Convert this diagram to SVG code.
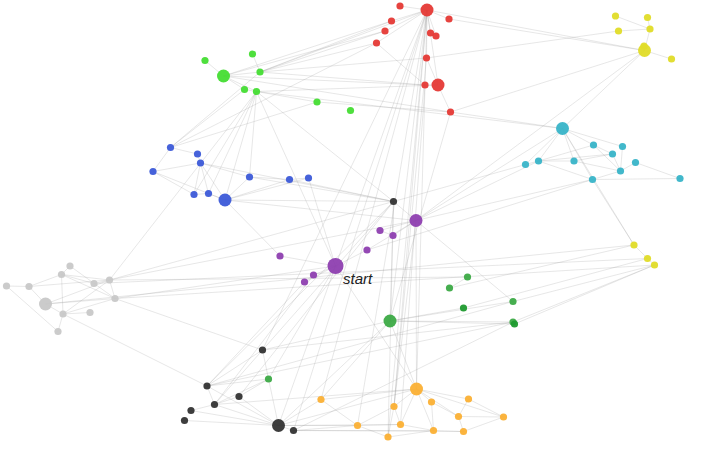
<svg xmlns="http://www.w3.org/2000/svg" width="705" height="452" viewBox="0 0 705 452">
<style>
.e line{stroke:#9a9a9a;stroke-opacity:.24;stroke-width:1;fill:none}
circle{fill-opacity:.95}
.red{fill:#e53935}.grn{fill:#44dd33}.blu{fill:#3c5ad8}.blk{fill:#333}.pur{fill:#8e3fb0}
.yel{fill:#e0dc28}.cya{fill:#38b4c8}.gry{fill:#c8c8c8}.fgr{fill:#3caa46}.dgr{fill:#1f9a2f}.org{fill:#fbb034}
text{font-family:"Liberation Sans",Arial,sans-serif;font-style:italic;font-size:15px;fill:#222}
</style>
<rect width="705" height="452" fill="#fff"/>
<g id="connectors" class="e">
<line x1="427" y1="10" x2="400" y2="6"/><line x1="427" y1="10" x2="391.5" y2="21"/><line x1="427" y1="10" x2="385" y2="31"/><line x1="427" y1="10" x2="376.5" y2="43"/><line x1="427" y1="10" x2="449" y2="19"/><line x1="427" y1="10" x2="430.5" y2="33"/><line x1="427" y1="10" x2="436" y2="36"/><line x1="427" y1="10" x2="426.5" y2="58"/><line x1="427" y1="10" x2="425" y2="85"/><line x1="427" y1="10" x2="438" y2="85"/><line x1="426.5" y1="58" x2="438" y2="85"/><line x1="425" y1="85" x2="438" y2="85"/><line x1="438" y1="85" x2="450.5" y2="112"/><line x1="376.5" y1="43" x2="425" y2="85"/><line x1="430.5" y1="33" x2="436" y2="36"/>
<line x1="427" y1="10" x2="644.5" y2="50.5"/><line x1="449" y1="19" x2="644.5" y2="50.5"/><line x1="426.5" y1="58" x2="618.5" y2="31"/><line x1="450.5" y1="112" x2="644.5" y2="50.5"/><line x1="450.5" y1="112" x2="562.5" y2="128.5"/><line x1="450.5" y1="112" x2="390" y2="321"/><line x1="427" y1="10" x2="390" y2="321"/><line x1="427" y1="10" x2="394" y2="406.5"/><line x1="427" y1="10" x2="388" y2="437"/><line x1="427" y1="10" x2="293.5" y2="430.5"/><line x1="427" y1="10" x2="278.5" y2="425.5"/><line x1="427" y1="10" x2="262.5" y2="350"/><line x1="427" y1="10" x2="357.5" y2="425.5"/><line x1="427" y1="10" x2="321" y2="399.5"/><line x1="425" y1="85" x2="400.5" y2="424.5"/><line x1="425" y1="85" x2="416.5" y2="389"/><line x1="426.5" y1="58" x2="394" y2="406.5"/><line x1="385" y1="31" x2="260" y2="72"/><line x1="376.5" y1="43" x2="260" y2="72"/><line x1="427" y1="10" x2="260" y2="72"/><line x1="391.5" y1="21" x2="223.5" y2="76"/><line x1="391.5" y1="21" x2="260" y2="72"/><line x1="385" y1="31" x2="223.5" y2="76"/><line x1="425" y1="85" x2="260" y2="72"/><line x1="425" y1="85" x2="223.5" y2="76"/><line x1="376.5" y1="43" x2="170.5" y2="147.5"/><line x1="438" y1="85" x2="256.5" y2="91.5"/><line x1="260" y1="72" x2="426.5" y2="58"/><line x1="223.5" y1="76" x2="450.5" y2="112"/>
<line x1="205" y1="60.5" x2="223.5" y2="76"/><line x1="223.5" y1="76" x2="260" y2="72"/><line x1="223.5" y1="76" x2="244.5" y2="89.5"/><line x1="223.5" y1="76" x2="256.5" y2="91.5"/><line x1="252.5" y1="54" x2="260" y2="72"/><line x1="244.5" y1="89.5" x2="256.5" y2="91.5"/><line x1="256.5" y1="91.5" x2="317" y2="102"/><line x1="256.5" y1="91.5" x2="562.5" y2="128.5"/><line x1="317" y1="102" x2="450.5" y2="112"/><line x1="256.5" y1="91.5" x2="109.5" y2="280"/><line x1="256.5" y1="91.5" x2="208.5" y2="193.5"/><line x1="256.5" y1="91.5" x2="225" y2="200"/><line x1="256.5" y1="91.5" x2="249.5" y2="177"/><line x1="256.5" y1="91.5" x2="194" y2="194.5"/><line x1="256.5" y1="91.5" x2="393.5" y2="201.5"/><line x1="256.5" y1="91.5" x2="335.5" y2="266"/><line x1="244.5" y1="89.5" x2="170.5" y2="147.5"/><line x1="317" y1="102" x2="170.5" y2="147.5"/><line x1="170.5" y1="147.5" x2="260" y2="72"/>
<line x1="170.5" y1="147.5" x2="197.5" y2="154"/><line x1="170.5" y1="147.5" x2="153" y2="171.5"/><line x1="197.5" y1="154" x2="200.5" y2="163"/><line x1="200.5" y1="163" x2="153" y2="171.5"/><line x1="200.5" y1="163" x2="194" y2="194.5"/><line x1="200.5" y1="163" x2="208.5" y2="193.5"/><line x1="200.5" y1="163" x2="225" y2="200"/><line x1="153" y1="171.5" x2="225" y2="200"/><line x1="153" y1="171.5" x2="194" y2="194.5"/><line x1="194" y1="194.5" x2="208.5" y2="193.5"/><line x1="208.5" y1="193.5" x2="225" y2="200"/><line x1="225" y1="200" x2="249.5" y2="177"/><line x1="200.5" y1="163" x2="249.5" y2="177"/><line x1="249.5" y1="177" x2="289.5" y2="179.5"/><line x1="289.5" y1="179.5" x2="308.5" y2="178"/><line x1="225" y1="200" x2="289.5" y2="179.5"/><line x1="225" y1="200" x2="308.5" y2="178"/><line x1="249.5" y1="177" x2="393.5" y2="201.5"/><line x1="225" y1="200" x2="393.5" y2="201.5"/><line x1="289.5" y1="179.5" x2="393.5" y2="201.5"/><line x1="225" y1="200" x2="416" y2="220.5"/><line x1="200.5" y1="163" x2="393.5" y2="201.5"/><line x1="225" y1="200" x2="280" y2="256"/><line x1="308.5" y1="178" x2="335.5" y2="266"/>
<line x1="393.5" y1="201.5" x2="416" y2="220.5"/><line x1="393.5" y1="201.5" x2="390" y2="321"/><line x1="393.5" y1="201.5" x2="388" y2="437"/><line x1="393.5" y1="201.5" x2="207" y2="386"/><line x1="393.5" y1="201.5" x2="239" y2="396.5"/><line x1="393.5" y1="201.5" x2="214.5" y2="404.5"/><line x1="393.5" y1="201.5" x2="525.5" y2="164.5"/><line x1="109.5" y1="280" x2="393.5" y2="201.5"/><line x1="262.5" y1="350" x2="207" y2="386"/><line x1="262.5" y1="350" x2="268.5" y2="379"/><line x1="262.5" y1="350" x2="390" y2="321"/><line x1="262.5" y1="350" x2="513" y2="322"/><line x1="207" y1="386" x2="214.5" y2="404.5"/><line x1="207" y1="386" x2="278.5" y2="425.5"/><line x1="207" y1="386" x2="268.5" y2="379"/><line x1="207" y1="386" x2="513" y2="301.5"/><line x1="207" y1="386" x2="513" y2="322"/><line x1="239" y1="396.5" x2="214.5" y2="404.5"/><line x1="239" y1="396.5" x2="278.5" y2="425.5"/><line x1="239" y1="396.5" x2="268.5" y2="379"/><line x1="214.5" y1="404.5" x2="191" y2="410.5"/><line x1="214.5" y1="404.5" x2="278.5" y2="425.5"/><line x1="214.5" y1="404.5" x2="416.5" y2="389"/><line x1="214.5" y1="404.5" x2="268.5" y2="379"/><line x1="184.5" y1="420.5" x2="278.5" y2="425.5"/><line x1="278.5" y1="425.5" x2="293.5" y2="430.5"/><line x1="278.5" y1="425.5" x2="268.5" y2="379"/><line x1="278.5" y1="425.5" x2="321" y2="399.5"/><line x1="278.5" y1="425.5" x2="416.5" y2="389"/><line x1="278.5" y1="425.5" x2="400.5" y2="424.5"/><line x1="278.5" y1="425.5" x2="357.5" y2="425.5"/><line x1="293.5" y1="430.5" x2="357.5" y2="425.5"/><line x1="293.5" y1="430.5" x2="433.5" y2="430.5"/><line x1="293.5" y1="430.5" x2="463.5" y2="431.5"/><line x1="293.5" y1="430.5" x2="513" y2="322"/><line x1="191" y1="410.5" x2="278.5" y2="425.5"/>
<line x1="416" y1="220.5" x2="380" y2="230.5"/><line x1="416" y1="220.5" x2="393" y2="235.5"/><line x1="380" y1="230.5" x2="393" y2="235.5"/><line x1="416" y1="220.5" x2="367" y2="250"/><line x1="367" y1="250" x2="335.5" y2="266"/><line x1="335.5" y1="266" x2="313.5" y2="275"/><line x1="335.5" y1="266" x2="304.5" y2="282"/><line x1="313.5" y1="275" x2="304.5" y2="282"/><line x1="280" y1="256" x2="335.5" y2="266"/><line x1="416" y1="220.5" x2="562.5" y2="128.5"/><line x1="416" y1="220.5" x2="538.5" y2="161"/><line x1="416" y1="220.5" x2="592.5" y2="179.5"/><line x1="416" y1="220.5" x2="644.5" y2="50.5"/><line x1="416" y1="220.5" x2="513" y2="301.5"/><line x1="416" y1="220.5" x2="416.5" y2="389"/><line x1="416" y1="220.5" x2="394" y2="406.5"/><line x1="592.5" y1="179.5" x2="367" y2="250"/><line x1="335.5" y1="266" x2="416.5" y2="389"/><line x1="304.5" y1="282" x2="207" y2="386"/><line x1="313.5" y1="275" x2="214.5" y2="404.5"/><line x1="335.5" y1="266" x2="268.5" y2="379"/><line x1="109.5" y1="280" x2="416" y2="220.5"/>
<line x1="70" y1="266" x2="61.5" y2="274.5"/><line x1="70" y1="266" x2="115" y2="298.5"/><line x1="61.5" y1="274.5" x2="29" y2="286.5"/><line x1="61.5" y1="274.5" x2="109.5" y2="280"/><line x1="61.5" y1="274.5" x2="115" y2="298.5"/><line x1="61.5" y1="274.5" x2="63" y2="314"/><line x1="61.5" y1="274.5" x2="94" y2="283.5"/><line x1="6.5" y1="286" x2="29" y2="286.5"/><line x1="6.5" y1="286" x2="58" y2="331.5"/><line x1="29" y1="286.5" x2="45.5" y2="304"/><line x1="29" y1="286.5" x2="109.5" y2="280"/><line x1="94" y1="283.5" x2="109.5" y2="280"/><line x1="109.5" y1="280" x2="115" y2="298.5"/><line x1="45.5" y1="304" x2="109.5" y2="280"/><line x1="45.5" y1="304" x2="115" y2="298.5"/><line x1="45.5" y1="304" x2="63" y2="314"/><line x1="63" y1="314" x2="90" y2="312.5"/><line x1="63" y1="314" x2="58" y2="331.5"/><line x1="109.5" y1="280" x2="63" y2="314"/><line x1="63" y1="314" x2="115" y2="298.5"/><line x1="115" y1="298.5" x2="262.5" y2="350"/><line x1="63" y1="314" x2="207" y2="386"/><line x1="109.5" y1="280" x2="467.5" y2="277"/><line x1="45.5" y1="304" x2="634" y2="245"/><line x1="94" y1="283.5" x2="647.5" y2="258.5"/><line x1="115" y1="298.5" x2="654.5" y2="265"/><line x1="115" y1="298.5" x2="335.5" y2="266"/>
<line x1="562.5" y1="128.5" x2="593.5" y2="145"/><line x1="562.5" y1="128.5" x2="525.5" y2="164.5"/><line x1="562.5" y1="128.5" x2="538.5" y2="161"/><line x1="562.5" y1="128.5" x2="574" y2="161"/><line x1="562.5" y1="128.5" x2="592.5" y2="179.5"/><line x1="562.5" y1="128.5" x2="622.5" y2="146.5"/><line x1="525.5" y1="164.5" x2="538.5" y2="161"/><line x1="538.5" y1="161" x2="574" y2="161"/><line x1="538.5" y1="161" x2="593.5" y2="145"/><line x1="574" y1="161" x2="612.5" y2="154"/><line x1="574" y1="161" x2="620.5" y2="171"/><line x1="593.5" y1="145" x2="612.5" y2="154"/><line x1="593.5" y1="145" x2="620.5" y2="171"/><line x1="612.5" y1="154" x2="620.5" y2="171"/><line x1="622.5" y1="146.5" x2="620.5" y2="171"/><line x1="635.5" y1="162.5" x2="620.5" y2="171"/><line x1="592.5" y1="179.5" x2="680" y2="178.5"/><line x1="635.5" y1="162.5" x2="680" y2="178.5"/><line x1="592.5" y1="179.5" x2="620.5" y2="171"/><line x1="538.5" y1="161" x2="592.5" y2="179.5"/><line x1="538.5" y1="161" x2="612.5" y2="154"/><line x1="562.5" y1="128.5" x2="644.5" y2="50.5"/><line x1="592.5" y1="179.5" x2="634" y2="245"/><line x1="562.5" y1="128.5" x2="634" y2="245"/>
<line x1="615.5" y1="16" x2="650" y2="29"/><line x1="647.5" y1="17.5" x2="650" y2="29"/><line x1="618.5" y1="31" x2="650" y2="29"/><line x1="650" y1="29" x2="644.5" y2="50.5"/><line x1="644.5" y1="50.5" x2="671.5" y2="59"/><line x1="634" y1="245" x2="647.5" y2="258.5"/><line x1="647.5" y1="258.5" x2="654.5" y2="265"/>
<line x1="467.5" y1="277" x2="449.5" y2="288"/><line x1="390" y1="321" x2="463.5" y2="308"/><line x1="390" y1="321" x2="513" y2="322"/><line x1="390" y1="321" x2="514.5" y2="324"/><line x1="390" y1="321" x2="513" y2="301.5"/><line x1="513" y1="322" x2="654.5" y2="265"/><line x1="514.5" y1="324" x2="654.5" y2="265"/><line x1="513" y1="301.5" x2="654.5" y2="265"/><line x1="463.5" y1="308" x2="647.5" y2="258.5"/><line x1="449.5" y1="288" x2="634" y2="245"/><line x1="390" y1="321" x2="416.5" y2="389"/><line x1="390" y1="321" x2="278.5" y2="425.5"/><line x1="321" y1="399.5" x2="390" y2="321"/>
<line x1="416.5" y1="389" x2="394" y2="406.5"/><line x1="416.5" y1="389" x2="431.5" y2="402"/><line x1="416.5" y1="389" x2="468.5" y2="399"/><line x1="416.5" y1="389" x2="458.5" y2="416.5"/><line x1="416.5" y1="389" x2="400.5" y2="424.5"/><line x1="416.5" y1="389" x2="433.5" y2="430.5"/><line x1="416.5" y1="389" x2="503.5" y2="417"/><line x1="394" y1="406.5" x2="357.5" y2="425.5"/><line x1="394" y1="406.5" x2="400.5" y2="424.5"/><line x1="394" y1="406.5" x2="388" y2="437"/><line x1="357.5" y1="425.5" x2="388" y2="437"/><line x1="357.5" y1="425.5" x2="321" y2="399.5"/><line x1="357.5" y1="425.5" x2="400.5" y2="424.5"/><line x1="431.5" y1="402" x2="433.5" y2="430.5"/><line x1="431.5" y1="402" x2="458.5" y2="416.5"/><line x1="468.5" y1="399" x2="458.5" y2="416.5"/><line x1="458.5" y1="416.5" x2="463.5" y2="431.5"/><line x1="458.5" y1="416.5" x2="503.5" y2="417"/><line x1="433.5" y1="430.5" x2="463.5" y2="431.5"/><line x1="463.5" y1="431.5" x2="503.5" y2="417"/><line x1="468.5" y1="399" x2="503.5" y2="417"/><line x1="400.5" y1="424.5" x2="433.5" y2="430.5"/><line x1="388" y1="437" x2="433.5" y2="430.5"/><line x1="321" y1="399.5" x2="416.5" y2="389"/>
</g>
<g id="r0"><circle class="red" cx="427" cy="10" r="6.5"/></g>
<g id="r1"><circle class="red" cx="400" cy="6" r="3.6"/></g>
<g id="r2"><circle class="red" cx="391.5" cy="21" r="3.6"/></g>
<g id="r3"><circle class="red" cx="385" cy="31" r="3.6"/></g>
<g id="r4"><circle class="red" cx="376.5" cy="43" r="3.6"/></g>
<g id="r5"><circle class="red" cx="449" cy="19" r="3.6"/></g>
<g id="r6"><circle class="red" cx="430.5" cy="33" r="3.6"/></g>
<g id="r7"><circle class="red" cx="436" cy="36" r="3.6"/></g>
<g id="r8"><circle class="red" cx="426.5" cy="58" r="3.6"/></g>
<g id="r9"><circle class="red" cx="425" cy="85" r="3.6"/></g>
<g id="r10"><circle class="red" cx="438" cy="85" r="6.5"/></g>
<g id="r11"><circle class="red" cx="450.5" cy="112" r="3.6"/></g>
<g id="g0"><circle class="grn" cx="205" cy="60.5" r="3.6"/></g>
<g id="g1"><circle class="grn" cx="223.5" cy="76" r="6.5"/></g>
<g id="g2"><circle class="grn" cx="252.5" cy="54" r="3.6"/></g>
<g id="g3"><circle class="grn" cx="260" cy="72" r="3.6"/></g>
<g id="g4"><circle class="grn" cx="244.5" cy="89.5" r="3.6"/></g>
<g id="g5"><circle class="grn" cx="256.5" cy="91.5" r="3.6"/></g>
<g id="g6"><circle class="grn" cx="317" cy="102" r="3.6"/></g>
<g id="g7"><circle class="grn" cx="350.5" cy="110.5" r="3.6"/></g>
<g id="b0"><circle class="blu" cx="170.5" cy="147.5" r="3.6"/></g>
<g id="b1"><circle class="blu" cx="197.5" cy="154" r="3.6"/></g>
<g id="b2"><circle class="blu" cx="200.5" cy="163" r="3.6"/></g>
<g id="b3"><circle class="blu" cx="153" cy="171.5" r="3.6"/></g>
<g id="b4"><circle class="blu" cx="194" cy="194.5" r="3.6"/></g>
<g id="b5"><circle class="blu" cx="208.5" cy="193.5" r="3.6"/></g>
<g id="b6"><circle class="blu" cx="225" cy="200" r="6.5"/></g>
<g id="b7"><circle class="blu" cx="249.5" cy="177" r="3.6"/></g>
<g id="b8"><circle class="blu" cx="289.5" cy="179.5" r="3.6"/></g>
<g id="b9"><circle class="blu" cx="308.5" cy="178" r="3.6"/></g>
<g id="k0"><circle class="blk" cx="393.5" cy="201.5" r="3.6"/></g>
<g id="k1"><circle class="blk" cx="262.5" cy="350" r="3.6"/></g>
<g id="k2"><circle class="blk" cx="207" cy="386" r="3.6"/></g>
<g id="k3"><circle class="blk" cx="239" cy="396.5" r="3.6"/></g>
<g id="k4"><circle class="blk" cx="214.5" cy="404.5" r="3.6"/></g>
<g id="k5"><circle class="blk" cx="191" cy="410.5" r="3.6"/></g>
<g id="k6"><circle class="blk" cx="184.5" cy="420.5" r="3.6"/></g>
<g id="k7"><circle class="blk" cx="278.5" cy="425.5" r="6.5"/></g>
<g id="k8"><circle class="blk" cx="293.5" cy="430.5" r="3.6"/></g>
<g id="p0"><circle class="pur" cx="416" cy="220.5" r="6.5"/></g>
<g id="p1"><circle class="pur" cx="380" cy="230.5" r="3.6"/></g>
<g id="p2"><circle class="pur" cx="393" cy="235.5" r="3.6"/></g>
<g id="p3"><circle class="pur" cx="280" cy="256" r="3.6"/></g>
<g id="p4"><circle class="pur" cx="367" cy="250" r="3.6"/></g>
<g id="p5"><circle class="pur" cx="335.5" cy="266" r="8"/><text x="343" y="283.5">start</text></g>
<g id="p6"><circle class="pur" cx="313.5" cy="275" r="3.6"/></g>
<g id="p7"><circle class="pur" cx="304.5" cy="282" r="3.6"/></g>
<g id="y0"><circle class="yel" cx="615.5" cy="16" r="3.6"/></g>
<g id="y1"><circle class="yel" cx="647.5" cy="17.5" r="3.6"/></g>
<g id="y2"><circle class="yel" cx="650" cy="29" r="3.6"/></g>
<g id="y3"><circle class="yel" cx="618.5" cy="31" r="3.6"/></g>
<g id="y4"><circle class="yel" cx="644.5" cy="50.5" r="6.5"/><circle class="yel" cx="644" cy="46" r="3.6"/></g>
<g id="y6"><circle class="yel" cx="671.5" cy="59" r="3.6"/></g>
<g id="y7"><circle class="yel" cx="634" cy="245" r="3.6"/></g>
<g id="y8"><circle class="yel" cx="647.5" cy="258.5" r="3.6"/></g>
<g id="y9"><circle class="yel" cx="654.5" cy="265" r="3.6"/></g>
<g id="c0"><circle class="cya" cx="562.5" cy="128.5" r="6.5"/></g>
<g id="c1"><circle class="cya" cx="593.5" cy="145" r="3.6"/></g>
<g id="c2"><circle class="cya" cx="622.5" cy="146.5" r="3.6"/></g>
<g id="c3"><circle class="cya" cx="612.5" cy="154" r="3.6"/></g>
<g id="c4"><circle class="cya" cx="525.5" cy="164.5" r="3.6"/></g>
<g id="c5"><circle class="cya" cx="538.5" cy="161" r="3.6"/></g>
<g id="c6"><circle class="cya" cx="574" cy="161" r="3.6"/></g>
<g id="c7"><circle class="cya" cx="635.5" cy="162.5" r="3.6"/></g>
<g id="c8"><circle class="cya" cx="620.5" cy="171" r="3.6"/></g>
<g id="c9"><circle class="cya" cx="592.5" cy="179.5" r="3.6"/></g>
<g id="c10"><circle class="cya" cx="680" cy="178.5" r="3.6"/></g>
<g id="q0"><circle class="gry" cx="70" cy="266" r="3.6"/></g>
<g id="q1"><circle class="gry" cx="61.5" cy="274.5" r="3.6"/></g>
<g id="q2"><circle class="gry" cx="6.5" cy="286" r="3.6"/></g>
<g id="q3"><circle class="gry" cx="29" cy="286.5" r="3.6"/></g>
<g id="q4"><circle class="gry" cx="94" cy="283.5" r="3.6"/></g>
<g id="q5"><circle class="gry" cx="109.5" cy="280" r="3.6"/></g>
<g id="q6"><circle class="gry" cx="115" cy="298.5" r="3.6"/></g>
<g id="q7"><circle class="gry" cx="45.5" cy="304" r="6.5"/></g>
<g id="q8"><circle class="gry" cx="63" cy="314" r="3.6"/></g>
<g id="q9"><circle class="gry" cx="90" cy="312.5" r="3.6"/></g>
<g id="q10"><circle class="gry" cx="58" cy="331.5" r="3.6"/></g>
<g id="f0"><circle class="fgr" cx="467.5" cy="277" r="3.6"/></g>
<g id="f1"><circle class="fgr" cx="449.5" cy="288" r="3.6"/></g>
<g id="f2"><circle class="dgr" cx="463.5" cy="308" r="3.6"/></g>
<g id="f3"><circle class="fgr" cx="390" cy="321" r="6.5"/></g>
<g id="f4"><circle class="fgr" cx="268.5" cy="379" r="3.6"/></g>
<g id="f5"><circle class="fgr" cx="513" cy="301.5" r="3.6"/></g>
<g id="f6"><circle class="fgr" cx="513" cy="322" r="3.6"/></g>
<g id="f7"><circle class="dgr" cx="514.5" cy="324" r="3.6"/></g>
<g id="o0"><circle class="org" cx="416.5" cy="389" r="6.5"/></g>
<g id="o1"><circle class="org" cx="321" cy="399.5" r="3.6"/></g>
<g id="o2"><circle class="org" cx="394" cy="406.5" r="3.6"/></g>
<g id="o3"><circle class="org" cx="431.5" cy="402" r="3.6"/></g>
<g id="o4"><circle class="org" cx="468.5" cy="399" r="3.6"/></g>
<g id="o5"><circle class="org" cx="458.5" cy="416.5" r="3.6"/></g>
<g id="o6"><circle class="org" cx="357.5" cy="425.5" r="3.6"/></g>
<g id="o7"><circle class="org" cx="400.5" cy="424.5" r="3.6"/></g>
<g id="o8"><circle class="org" cx="433.5" cy="430.5" r="3.6"/></g>
<g id="o9"><circle class="org" cx="463.5" cy="431.5" r="3.6"/></g>
<g id="o10"><circle class="org" cx="388" cy="437" r="3.6"/></g>
<g id="o11"><circle class="org" cx="503.5" cy="417" r="3.6"/></g>
</svg>
